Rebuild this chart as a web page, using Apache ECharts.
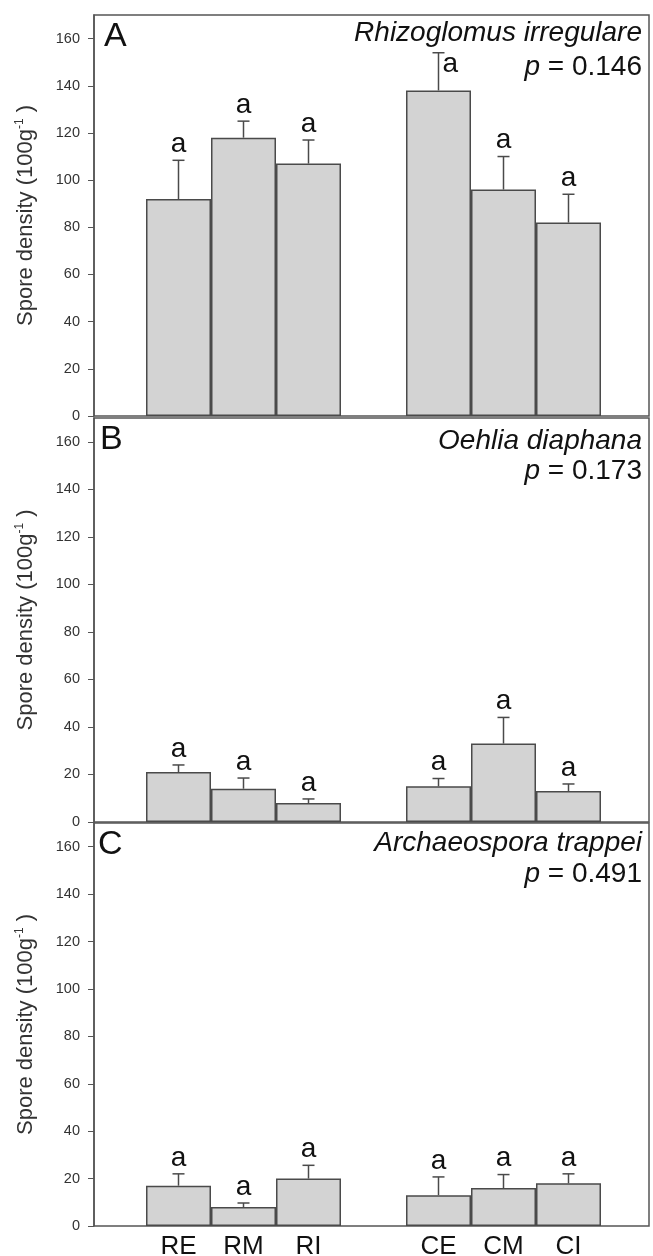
<!DOCTYPE html>
<html><head><meta charset="utf-8">
<script src="https://cdn.jsdelivr.net/npm/echarts@6/dist/echarts.min.js"></script>
<style>html,body{margin:0;padding:0;background:#fff}#c{width:653px;height:1256px}</style>
</head><body><div id="c"></div>
<script>
// ---- data ----
const categories = ['RE', 'RM', 'RI', '', 'CE', 'CM', 'CI'];
const panelLetters = ['A', 'B', 'C'];
const species = ['Rhizoglomus irregulare', 'Oehlia diaphana', 'Archaeospora trappei'];
const pValues = ['0.146', '0.173', '0.491'];
const meansA = [92, 118, 107, null, 138, 96, 82];
const errA   = [16.4, 7, 10, null, 16, 14, 12];
const meansB = [21, 14, 8, null, 15, 33, 13];
const errB   = [3, 4.5, 1.7, null, 3.3, 11, 3];
const meansC = [17, 8, 20, null, 13, 16, 18];
const errC   = [5, 1.7, 5.6, null, 7.7, 5.7, 4];
const lettersA = ['a', 'a', 'a', '', 'a', 'a', 'a'];
const lettersB = ['a', 'a', 'a', '', 'a', 'a', 'a'];
const lettersC = ['a', 'a', 'a', '', 'a', 'a', 'a'];
const yTicks = [0, 20, 40, 60, 80, 100, 120, 140, 160];
const yMax = 170;

const means = [meansA, meansB, meansC];
const errs = [errA, errB, errC];
const letters = [lettersA, lettersB, lettersC];

// ---- layout ----
const FONT = '"Liberation Sans", Arial, sans-serif';
const panelTop = [15, 418, 823];
const panelH = [401, 404, 403];
const frameLeft = 94, frameW = 555;
const barLeft = 146, barW = 455;
const speciesTop = [19, 427, 829];
const pTop = [53, 457, 860];
const letterTop = [20, 423, 828];
const letterLeft = [104, 100, 98];
const AX = '#555';

const grids = [], xAxes = [], yAxes = [], series = [], titles = [];
for (let i = 0; i < 3; i++) {
  grids.push({ left: frameLeft, width: frameW, top: panelTop[i], height: panelH[i], show: true,
    borderColor: AX, borderWidth: 1.5, backgroundColor: 'transparent', containLabel: false, outerBoundsMode: 'none' });
  grids.push({ left: barLeft, width: barW, top: panelTop[i], height: panelH[i], containLabel: false, outerBoundsMode: 'none' });
  xAxes.push({ gridIndex: 2 * i, type: 'value', min: 0, max: 1, show: false });
  xAxes.push({ gridIndex: 2 * i + 1, type: 'category', data: categories,
    axisLine: { show: false }, axisTick: { show: false },
    axisLabel: { show: i === 2, fontSize: 26, color: '#111', margin: 8, fontFamily: FONT, interval: 0 } });
  yAxes.push({ gridIndex: 2 * i, type: 'value', min: 0, max: yMax, interval: 20,
    axisLine: { show: true, lineStyle: { color: AX, width: 1.5 } },
    axisTick: { show: true, customValues: yTicks, length: 6, lineStyle: { color: AX, width: 1 } },
    axisLabel: { customValues: yTicks, fontSize: 14.5, color: '#333', margin: 14, fontFamily: FONT },
    splitLine: { show: false },
    name: '{t|Spore density (100g}{s|-1}{t| )}', nameLocation: 'middle', nameGap: 56,
    nameTextStyle: { rich: {
      t: { fontSize: 22, color: '#333', fontFamily: FONT, lineHeight: 24 },
      s: { fontSize: 12, color: '#333', fontFamily: FONT, lineHeight: 12, verticalAlign: 'top' } } } });
  yAxes.push({ gridIndex: 2 * i + 1, type: 'value', min: 0, max: yMax, show: false, splitLine: { show: false } });

  series.push({ type: 'bar', xAxisIndex: 2 * i + 1, yAxisIndex: 2 * i + 1, data: means[i],
    barWidth: '100%', barCategoryGap: 0, silent: true,
    itemStyle: { color: '#d3d3d3', borderColor: '#4a4a4a', borderWidth: 1.5 } });

  const m = means[i], e = errs[i], L = letters[i];
  const ebData = [];
  m.forEach((v, k) => { if (v != null) ebData.push([k, v, e[k]]); });
  series.push({ type: 'custom', xAxisIndex: 2 * i + 1, yAxisIndex: 2 * i + 1, data: ebData, silent: true, z: 5,
    renderItem: (params, api) => {
      const k = api.value(0), v = api.value(1), er = api.value(2);
      const b = api.coord([k, v]), t = api.coord([k, v + er]);
      const cw = 6;
      const ch = [
        { type: 'line', shape: { x1: b[0], y1: b[1], x2: t[0], y2: t[1] }, style: { stroke: '#4a4a4a', lineWidth: 1.5 } },
        { type: 'line', shape: { x1: t[0] - cw, y1: t[1], x2: t[0] + cw, y2: t[1] }, style: { stroke: '#4a4a4a', lineWidth: 1.5 } }
      ];
      const nearTitle = (v + er) > 150;
      ch.push({ type: 'text', x: nearTitle ? t[0] + 4 : t[0], y: nearTitle ? t[1] + 26 : t[1] - 2,
        style: { text: L[k], font: '28px ' + FONT, fill: '#111',
          align: nearTitle ? 'left' : 'center', verticalAlign: 'bottom' } });
      return { type: 'group', children: ch };
    } });

  titles.push({ text: panelLetters[i], left: letterLeft[i], top: letterTop[i], padding: 0,
    textStyle: { fontSize: 34, fontWeight: 'normal', color: '#111', fontFamily: FONT } });
  titles.push({ text: species[i], right: 11, top: speciesTop[i], padding: 0,
    textStyle: { fontSize: 28, fontWeight: 'normal', fontStyle: 'italic', color: '#111', fontFamily: FONT } });
  titles.push({ text: '{i|p} = ' + pValues[i], right: 11, top: pTop[i], padding: 0,
    textStyle: { fontSize: 28, fontWeight: 'normal', color: '#111', fontFamily: FONT,
      rich: { i: { fontSize: 28, fontStyle: 'italic', color: '#111', fontFamily: FONT } } } });
}

const chart = echarts.init(document.getElementById('c'), null, { renderer: 'canvas' });
chart.setOption({ animation: false, backgroundColor: '#fff', title: titles,
  grid: grids, xAxis: xAxes, yAxis: yAxes, series: series });
</script></body></html>
